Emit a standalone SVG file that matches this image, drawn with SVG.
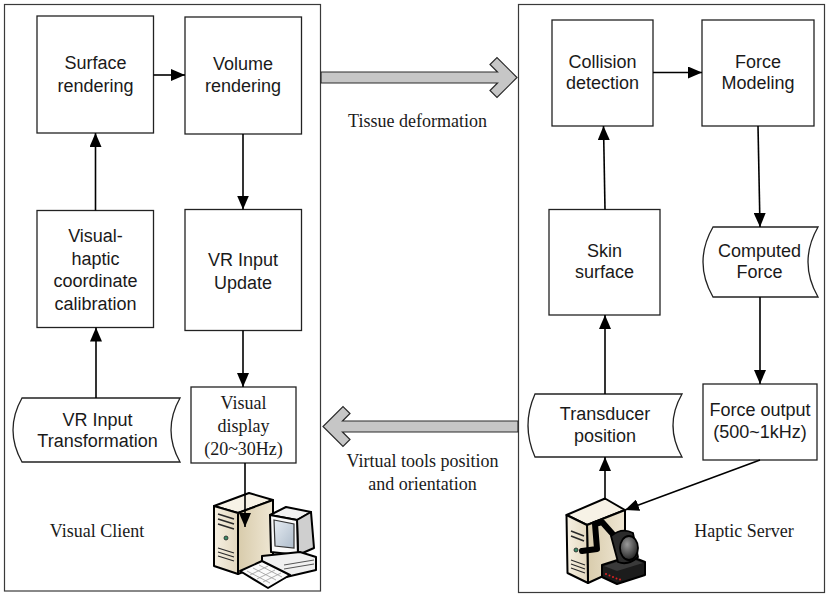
<svg xmlns="http://www.w3.org/2000/svg" width="826" height="597" viewBox="0 0 826 597">
  <style>
    .frame { fill: #ffffff; stroke: #3a3a3a; stroke-width: 1.2; }
    .box { fill: #ffffff; stroke: #222222; stroke-width: 1.3; }
    .sans { font-family: "Liberation Sans", Arial, sans-serif; font-size: 18px; fill: #1a1a1a; text-anchor: middle; }
    .serif { font-family: "Liberation Serif", "Times New Roman", serif; font-size: 18px; fill: #1a1a1a; text-anchor: middle; }
    .conn { fill: none; stroke: #000000; stroke-width: 1.6; marker-end: url(#head); }
    .flow { fill: #c6c6c6; stroke: #2a2a2a; stroke-width: 1.2; stroke-linejoin: miter; }
    .ol { stroke: #000000; stroke-width: 2; stroke-linejoin: round; }
  </style>
  <defs>
    <marker id="head" viewBox="0 0 14 12" markerWidth="14" markerHeight="12" refX="14" refY="6" orient="auto" markerUnits="userSpaceOnUse">
      <path d="M0,0 L14,6 L0,12 Z" fill="#000000"/>
    </marker>
    <linearGradient id="towerFront" x1="0" y1="0" x2="1" y2="0">
      <stop offset="0" stop-color="#f6f0e2"/>
      <stop offset="1" stop-color="#e3d8bf"/>
    </linearGradient>
    <linearGradient id="towerSide" x1="0" y1="0" x2="1" y2="0">
      <stop offset="0" stop-color="#d8cbab"/>
      <stop offset="1" stop-color="#efe7d4"/>
    </linearGradient>
    <linearGradient id="screen" x1="0" y1="0" x2="1" y2="1">
      <stop offset="0" stop-color="#e6ecf2"/>
      <stop offset="1" stop-color="#aebccb"/>
    </linearGradient>
    <radialGradient id="dome" cx="0.4" cy="0.35" r="0.7">
      <stop offset="0" stop-color="#9a9a9a"/>
      <stop offset="1" stop-color="#1e1e1e"/>
    </radialGradient>
  </defs>

  <!-- system boundaries -->
  <g id="visual-client">
    <rect class="frame" x="4.5" y="4.5" width="316" height="586.5"/>
    <text class="serif" x="97" y="537">Visual Client</text>
  </g>
  <g id="haptic-server">
    <rect class="frame" x="518.5" y="4.5" width="306" height="588"/>
    <text class="serif" x="744" y="537">Haptic Server</text>
  </g>

  <!-- visual client nodes -->
  <g id="surface-rendering">
    <rect class="box" x="37" y="16" width="116.5" height="117"/>
    <text class="sans" x="95.5" y="69">Surface</text>
    <text class="sans" x="95.5" y="92">rendering</text>
  </g>
  <g id="volume-rendering">
    <rect class="box" x="185" y="17" width="116.5" height="117"/>
    <text class="sans" x="243" y="69.5">Volume</text>
    <text class="sans" x="243" y="92">rendering</text>
  </g>
  <g id="coordinate-calibration">
    <rect class="box" x="37" y="210.5" width="116.5" height="117"/>
    <text class="sans" x="95.5" y="242">Visual-</text>
    <text class="sans" x="95.5" y="264.5">haptic</text>
    <text class="sans" x="95.5" y="287">coordinate</text>
    <text class="sans" x="95.5" y="309.5">calibration</text>
  </g>
  <g id="vr-input-update">
    <rect class="box" x="185" y="209.5" width="116.5" height="121"/>
    <text class="sans" x="243" y="266">VR Input</text>
    <text class="sans" x="243" y="288.5">Update</text>
  </g>
  <g id="vr-input-transformation">
    <path class="box" d="M22,398 L180,398 Q162,430 180,462 L22,462 Q4,430 22,398 Z"/>
    <text class="sans" x="97.5" y="426">VR Input</text>
    <text class="sans" x="97.5" y="446.5">Transformation</text>
  </g>
  <g id="visual-display">
    <rect class="box" x="191" y="387" width="105" height="76"/>
    <text class="serif" x="243.5" y="409">Visual</text>
    <text class="serif" x="243.5" y="431.5">display</text>
    <text class="serif" x="243.5" y="454.5">(20~30Hz)</text>
  </g>
  <g id="client-pc">
    <!-- tower -->
    <polygon class="ol" points="214,506 238,513 273,500 249,493" fill="#f7f2e6"/>
    <polygon class="ol" points="238,513 273,500 273,560 238,574" fill="url(#towerSide)"/>
    <polygon class="ol" points="214,506 238,513 238,574 214,566" fill="url(#towerFront)"/>
    <path d="M218,514 L234,519 M218,519 L234,524 M218,524 L234,529" stroke="#2a2a2a" stroke-width="1.6"/>
    <circle cx="226" cy="538" r="2" fill="#3c8c6a" stroke="#222" stroke-width="0.8"/>
    <path d="M218,548 L234,553 M218,552 L234,557 M218,556 L234,561" stroke="#2a2a2a" stroke-width="1.2"/>
    <!-- monitor -->
    <polygon class="ol" points="270,515 286,507 311,512 297,520" fill="#f2f2f2"/>
    <polygon class="ol" points="297,520 311,512 314,548 298,555" fill="#cfcfcf"/>
    <polygon class="ol" points="270,515 297,520 298,555 271,552" fill="#fafafa"/>
    <polygon points="274,520 294,524 294,548 275,546" fill="url(#screen)" stroke="#333" stroke-width="1.2"/>
    <!-- desktop base -->
    <polygon class="ol" points="262,556 300,552 316,557 316,570 282,578 262,572" fill="#f0f0f0"/>
    <path d="M284,565 L314,560 M284,569 L314,564" stroke="#555" stroke-width="1"/>
    <!-- keyboard -->
    <polygon class="ol" points="240,571 262,561 290,575 268,588" fill="#fbfbfb"/>
    <path d="M247,571 L270,583 M253,568 L276,580 M259,565 L282,577 M250,575 L268,566 M257,579 L275,570 M263,582 L281,573" stroke="#9a9a9a" stroke-width="0.8"/>
  </g>

  <!-- haptic server nodes -->
  <g id="collision-detection">
    <rect class="box" x="552" y="20" width="101" height="106"/>
    <text class="sans" x="602.5" y="68">Collision</text>
    <text class="sans" x="602.5" y="89">detection</text>
  </g>
  <g id="force-modeling">
    <rect class="box" x="702" y="20" width="112" height="106"/>
    <text class="sans" x="758" y="68">Force</text>
    <text class="sans" x="758" y="89">Modeling</text>
  </g>
  <g id="skin-surface">
    <rect class="box" x="549" y="209.5" width="111" height="105.5"/>
    <text class="sans" x="604.5" y="257">Skin</text>
    <text class="sans" x="604.5" y="278">surface</text>
  </g>
  <g id="computed-force">
    <path class="box" d="M713,227 L818,227 Q798,262 818,297 L713,297 Q693,262 713,227 Z"/>
    <text class="sans" x="759.5" y="257">Computed</text>
    <text class="sans" x="759.5" y="278">Force</text>
  </g>
  <g id="transducer-position">
    <path class="box" d="M535,394 L682,394 Q664,425.5 682,457 L535,457 Q521,425.5 535,394 Z"/>
    <text class="sans" x="605" y="419.5">Transducer</text>
    <text class="sans" x="605" y="441.5">position</text>
  </g>
  <g id="force-output">
    <rect class="box" x="703" y="384" width="114" height="76"/>
    <text class="sans" x="760" y="416">Force output</text>
    <text class="sans" x="760" y="438">(500~1kHz)</text>
  </g>
  <g id="server-device">
    <!-- tower -->
    <polygon class="ol" points="566.5,515 605,498.5 625,510 587,525" fill="#f7f2e6"/>
    <polygon class="ol" points="587,525 625,510 625,566 588,583" fill="url(#towerSide)"/>
    <polygon class="ol" points="566.5,515 587,525 588,583 567.5,573" fill="url(#towerFront)"/>
    <path d="M571,531 L584,536 M571,536 L584,541" stroke="#2a2a2a" stroke-width="1.6"/>
    <circle cx="576" cy="550" r="2" fill="#3c8c6a" stroke="#222" stroke-width="0.8"/>
    <path d="M571,560 L585,565 M571,564 L585,569 M571,568 L585,573" stroke="#2a2a2a" stroke-width="1.2"/>
    <!-- cable -->
    <path d="M582,551 L597,549 L595,524 L602,522 L618,540" fill="none" stroke="#000" stroke-width="6" stroke-linecap="round" stroke-linejoin="round"/>
    <!-- haptic device -->
    <polygon class="ol" points="602,565 630,556 645,562 645,575 617,584 602,577" fill="#1c1c1c"/>
    <polygon points="604,566 630,558 643,563 617,571" fill="#3a3a3a"/>
    <path d="M611,536 Q622,527 633,533 L638,557 Q628,566 618,562 Z" fill="#2b2b2b" stroke="#000" stroke-width="1.8"/>
    <ellipse cx="629" cy="548" rx="9" ry="12" fill="url(#dome)" stroke="#000" stroke-width="1.8"/>
    <g fill="#e02020">
      <circle cx="606" cy="574" r="1"/>
      <circle cx="609.5" cy="575.5" r="1"/>
      <circle cx="613" cy="577" r="1"/>
      <circle cx="616.5" cy="578.5" r="1"/>
      <circle cx="620" cy="579.5" r="1"/>
    </g>
  </g>

  <!-- connectors -->
  <g id="connectors">
    <line class="conn" x1="153.5" y1="75" x2="185" y2="75"/>
    <line class="conn" x1="243" y1="134" x2="243" y2="209.5"/>
    <line class="conn" x1="243" y1="330.5" x2="243" y2="387"/>
    <line class="conn" x1="245" y1="463" x2="245" y2="527"/>
    <line class="conn" x1="96" y1="398" x2="96" y2="327.5"/>
    <line class="conn" x1="95.5" y1="210.5" x2="95.5" y2="133"/>

    <line class="conn" x1="653" y1="72.5" x2="702" y2="72.5"/>
    <line class="conn" x1="758" y1="126" x2="760" y2="227"/>
    <line class="conn" x1="760" y1="297" x2="760" y2="384"/>
    <line class="conn" x1="760" y1="460" x2="625" y2="510"/>
    <line class="conn" x1="605" y1="500" x2="605" y2="457"/>
    <line class="conn" x1="605" y1="394" x2="605" y2="315"/>
    <line class="conn" x1="605" y1="209.5" x2="603.5" y2="126"/>

    <!-- data flows between client and server -->
    <polygon class="flow" points="321,72 497.5,72 490,64.5 497,57.5 517,77.5 497,97.5 490,90.5 497.5,83 321,83"/>
    <text class="serif" x="417.5" y="127">Tissue deformation</text>
    <polygon class="flow" points="518,421 342.5,421 350,413.5 343,406.5 323,426.5 343,446.5 350,439.5 342.5,432 518,432"/>
    <text class="serif" x="422.5" y="467">Virtual tools position</text>
    <text class="serif" x="422.5" y="489.5">and orientation</text>
  </g>
</svg>
